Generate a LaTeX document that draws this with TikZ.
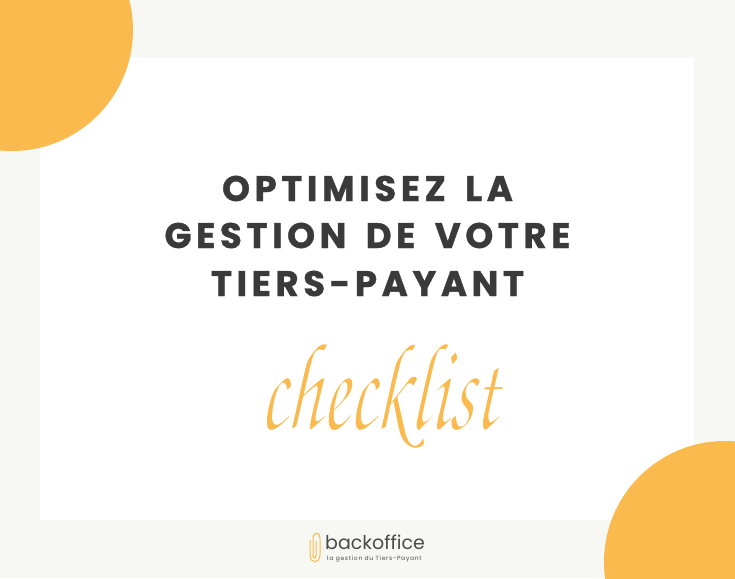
\documentclass[tikz,border=0pt]{standalone}
\usepackage{fontspec}
\setmainfont{Poppins}
\newfontfamily\titlefont[LetterSpace=13,WordSpace=1.6,BoldFeatures={FakeBold=1.0}]{Poppins}
\newfontfamily\subfont[LetterSpace=12]{Poppins}
\newfontfamily\handfont[FakeBold=1.6]{TeX Gyre Chorus}
\definecolor{pageback}{HTML}{F7F8F3}
\definecolor{blobfill}{HTML}{FBBA4D}
\definecolor{titleink}{HTML}{3A3A3A}
\definecolor{logoink}{HTML}{4A4A48}
\tikzset{
	blob/.style={fill=blobfill,draw=none},
	titleline/.style={text=titleink,inner sep=0pt,anchor=base,font=\titlefont\bfseries\fontsize{35.5}{35.5}\selectfont},
}
\newcommand{\titlerow}[3]
{
	\node[titleline] at (367.5,#1) (#2) {#3}
}
\begin{document}
\begin{tikzpicture}[x=1pt,y=-1pt]
	\useasboundingbox (0,0) rectangle (735,578);
	\clip (0,0) rectangle (735,578);
	\fill[pageback] (0,0) rectangle (735,578);
	\fill[white] (40,58) rectangle (694,520);
	
	%%% Corners
	\fill[blob] (12,30) circle[radius=121];
	\fill[blob] (725,562) circle[radius=121];
	
	%%% Title
	\titlerow{201}{Row1}{OPTIMISEZ LA};
	\titlerow{248}{Row2}{GESTION DE VOTRE};
	\titlerow{296}{Row3}{TIERS-PAYANT};
	
	%%% Script word
	\node[text=blobfill,inner sep=0pt,xscale=1.29,yscale=2.05,xslant=0.12] (Word) at (380,396) {\handfont\fontsize{62}{62}\selectfont\special{pdf:code 1 1 1 RG}checklist};
	
	%%% Logo
	\draw[blobfill,line width=1pt,line cap=round] (316,541) -- (316,555) .. controls (316,559) and (313,559) .. (313,555) -- (313,539) .. controls (313,531) and (320,531) .. (320,539) -- (320,555) .. controls (320,564) and (310,564) .. (310,555) -- (310,540);
	\node[text=logoink,inner sep=0pt,anchor=base west] (Brand) at (325,549.5) {\fontsize{19}{19}\selectfont backoffice};
	\node[text=logoink,inner sep=0pt,anchor=base west] (Tagline) at (327,560) {\subfont\fontsize{6}{6}\selectfont la gestion du Tiers-Payant};
\end{tikzpicture}
\end{document}
